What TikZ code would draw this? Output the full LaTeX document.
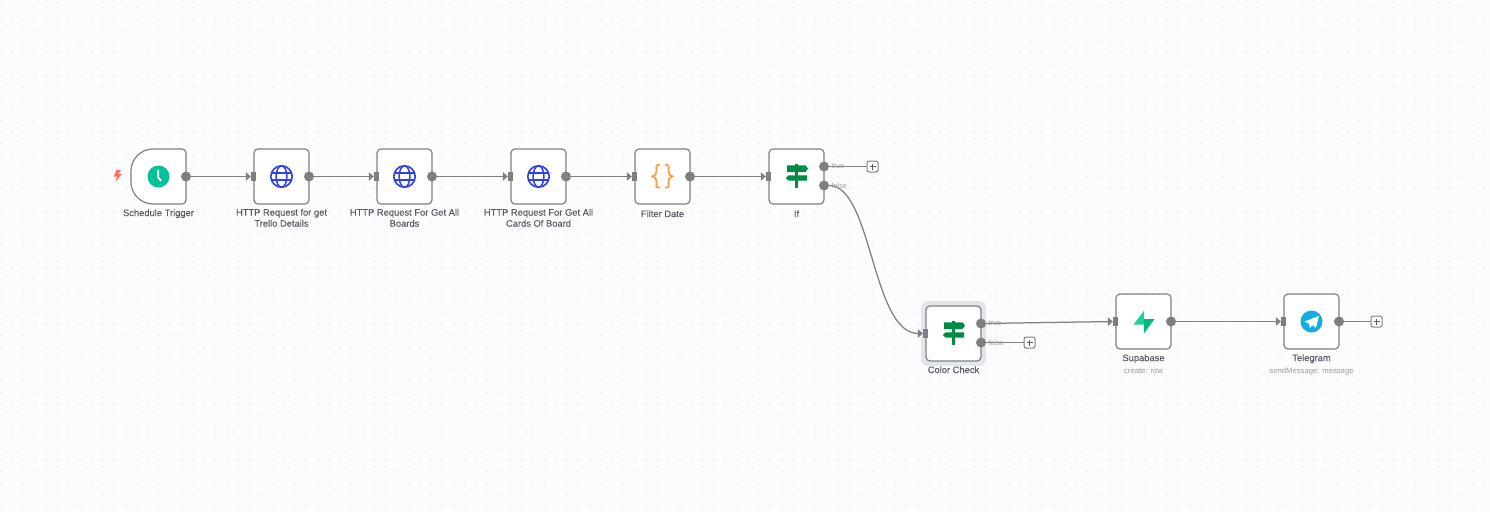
\documentclass[tikz,border=0pt]{standalone}
\usepackage{fontspec}
\setmainfont{Liberation Sans}
\newfontfamily\medfont[FakeBold=0.1]{Liberation Sans}
\usetikzlibrary{arrows.meta}
\definecolor{bgc}{HTML}{FBFCFE}
\definecolor{dotc}{HTML}{E1E4E9}
\definecolor{linec}{HTML}{808083}
\definecolor{labelc}{HTML}{5A5D68}
\definecolor{subc}{HTML}{9A9DA6}
\definecolor{portc}{HTML}{7F7F82}
\definecolor{haloc}{HTML}{E3E5EC}
\definecolor{bluec}{HTML}{2F41E6}
\definecolor{greenc}{HTML}{00C29A}
\definecolor{signc}{HTML}{008C45}
\definecolor{orangec}{HTML}{FF9A3C}
\definecolor{redc}{HTML}{FF6D5A}
\definecolor{supac}{HTML}{1AD394}
\definecolor{supbc}{HTML}{00B97C}
\definecolor{telec}{HTML}{12AEE2}
\tikzset{
  card/.style={draw=linec,fill=white,line width=1.2pt,rounded corners=4pt,minimum width=55pt,minimum height=55pt,inner sep=0pt},
  inport/.style={fill=portc,minimum width=5pt,minimum height=9pt,inner sep=0pt},
  outport/.style={circle,fill=portc,minimum size=10pt,inner sep=0pt},
  link/.style={draw=linec,line width=1.25pt},
  arrowlink/.style={link,-{Triangle[length=5pt,width=8.5pt,fill=linec]}},
  title/.style={text=labelc,font=\medfont\fontsize{9.35}{11}\selectfont,align=center,inner sep=0pt},
  subtitle/.style={text=subc,font=\fontsize{7.7}{9}\selectfont,inner sep=0pt},
  branch/.style={text=subc,font=\fontsize{7.2}{8}\selectfont,inner sep=0pt,anchor=west},
  plusbox/.style={draw=linec,fill=white,line width=1pt,rounded corners=2pt,minimum size=11pt,inner sep=0pt},
  globe/.pic={
    \draw[bluec,line width=1.6pt] (0,0) circle (10.7);
    \draw[bluec,line width=1.5pt] (0,0) ellipse (5.4 and 10.7);
    \draw[bluec,line width=1.5pt] (-9.6,-3.7) -- (9.6,-3.7) (-9.6,3.7) -- (9.6,3.7);
  },
  ifsign/.pic={
    \fill[signc] (-1.4,-12.2) rectangle (1.3,11);
    \fill[signc,rounded corners=0.4pt] (-9.5,-11.2) -- (9,-11.2) -- (11.5,-7.9) -- (9,-4.5) -- (-9.5,-4.5) -- cycle;
    \fill[signc,rounded corners=0.4pt] (10.5,-1.2) -- (-8,-1.2) -- (-10.7,1.5) -- (-8,4.2) -- (10.5,4.2) -- cycle;
  },
  plussign/.pic={
    \draw[labelc,line width=0.9pt] (-3,0) -- (3,0) (0,-3) -- (0,3);
  }
}
\begin{document}
\begin{tikzpicture}[x=1pt,y=-1pt]
\useasboundingbox (0,0) rectangle (1490,511);
\fill[bgc] (0,0) rectangle (1490,511);
% dotted canvas
\foreach \i in {0,...,131}{
  \foreach \j in {0,...,44}{
    \fill[dotc] ({0.8+11.32*\i},{7.5+11.32*\j}) circle (0.6);
  }
}
% halo of the selected node
\fill[haloc,rounded corners=7pt] (921,301) rectangle (986,366);
% trigger node
\coordinate (trg) at (158.5,176.5);
\draw[draw=linec,fill=white,line width=1.2pt,line join=round]
  (182,149) .. controls (184.2,149) and (186,150.8) .. (186,153) -- (186,200)
  .. controls (186,202.2) and (184.2,204) .. (182,204) -- (153,204)
  .. controls (141,204) and (131,194) .. (131,182) -- (131,171)
  .. controls (131,159) and (141,149) .. (153,149) -- cycle;
% cards
\node[card] (http1) at (281.5,176.5) {};
\node[card] (http2) at (404.5,176.5) {};
\node[card] (http3) at (538.5,176.5) {};
\node[card] (filter) at (662.5,176.5) {};
\node[card] (ifnode) at (796.5,176.5) {};
\node[card] (color) at (953.5,333.5) {};
\node[card] (supa) at (1143.5,321.5) {};
\node[card] (tele) at (1311.5,321.5) {};
% ports
\node[outport] (o0) at (186,176.5) {};
\node[inport] (i1) at (253.5,176.5) {};
\node[outport] (o1) at (309,176.5) {};
\node[inport] (i2) at (376.5,176.5) {};
\node[outport] (o2) at (432,176.5) {};
\node[inport] (i3) at (510.5,176.5) {};
\node[outport] (o3) at (566,176.5) {};
\node[inport] (i4) at (634.5,176.5) {};
\node[outport] (o4) at (690,176.5) {};
\node[inport] (i5) at (768.5,176.5) {};
\node[outport] (ot) at (824,166.5) {};
\node[outport] (of) at (824,185.5) {};
\node[inport] (i6) at (925.5,333.5) {};
\node[outport] (ct) at (981,323.5) {};
\node[outport] (cf) at (981,342.5) {};
\node[inport] (i7) at (1115.5,321.5) {};
\node[outport] (o7) at (1171,321.5) {};
\node[inport] (i8) at (1283.5,321.5) {};
\node[outport] (o8) at (1339,321.5) {};
% plus boxes
\node[plusbox] (p1) at (872.5,166.5) {};
\node[plusbox] (p2) at (1029.5,342.5) {};
\node[plusbox] (p3) at (1376.5,321.5) {};
\pic at (p1) {plussign};
\pic at (p2) {plussign};
\pic at (p3) {plussign};
% connectors
\draw[arrowlink] (o0) -- (i1);
\draw[arrowlink] (o1) -- (i2);
\draw[arrowlink] (o2) -- (i3);
\draw[arrowlink] (o3) -- (i4);
\draw[arrowlink] (o4) -- (i5);
\draw[arrowlink] (of.east) .. controls (872,185.5) and (872,333.5) .. (i6.west);
\draw[arrowlink] (ct) -- (i7);
\draw[arrowlink] (o7) -- (i8);
\draw[link] (ot) -- (p1);
\draw[link] (cf) -- (p2);
\draw[link] (o8) -- (p3);
% branch labels
\node[branch] at (831.5,166.5) {true};
\node[branch] at (831.5,185.5) {false};
\node[branch] at (988.5,323.5) {true};
\node[branch] at (988.5,342.5) {false};
% icons
\fill[redc] (116.5,170) -- (113.8,176.5) -- (117,176.5) -- (115.5,182) -- (121.8,174) -- (118.5,174) -- (120.8,170) -- cycle;
\fill[greenc] (trg) circle (11);
\draw[white,line width=1.9pt,line cap=round,line join=round] (158.2,170.5) -- (158.2,177.5) -- (161,180.5);
\pic at (http1) {globe};
\pic at (http2) {globe};
\pic at (http3) {globe};
\draw[orangec,line width=1.7pt,line cap=round]
  (659.5,164.7) .. controls (655,164.7) and (656.5,168) .. (656.5,171) .. controls (656.5,174) and (655.5,176) .. (652.5,176.3)
  .. controls (655.5,176.6) and (656.5,179) .. (656.5,182) .. controls (656.5,185) and (655,187.7) .. (659.5,187.7);
\draw[orangec,line width=1.7pt,line cap=round]
  (665.5,164.7) .. controls (670,164.7) and (668.5,168) .. (668.5,171) .. controls (668.5,174) and (669.5,176) .. (672.5,176.3)
  .. controls (669.5,176.6) and (668.5,179) .. (668.5,182) .. controls (668.5,185) and (670,187.7) .. (665.5,187.7);
\pic at (ifnode) {ifsign};
\pic at (color) {ifsign};
\fill[supac] (1144,310.7) -- (1133.5,324.5) -- (1144,324.5) -- cycle;
\fill[supbc] (1144,333.3) -- (1154.5,319) -- (1144,319) -- cycle;
\fill[telec] (tele) circle (11);
\fill[white] (1319,315.8) -- (1304.3,321.6) -- (1308.6,323.3) -- (1310,327.8) -- (1312.4,325.2) -- (1316,327.6) -- cycle;
% titles
\node[title] (t0) at (158.5,213.7) {Schedule Trigger};
\node[title,anchor=north] (t1) at (281.5,208.7) {HTTP Request for get\\Trello Details};
\node[title,anchor=north] (t2) at (404.5,208.7) {HTTP Request For Get All\\Boards};
\node[title,anchor=north] (t3) at (538.5,208.7) {HTTP Request For Get All\\Cards Of Board};
\node[title] (t4) at (662.5,213.7) {Filter Date};
\node[title] (t5) at (796.5,213.7) {If};
\node[title] (t6) at (953.5,369.7) {Color Check};
\node[title] (t7) at (1143.5,358.7) {Supabase};
\node[subtitle] (s7) at (1143.5,371.5) {create: row};
\node[title] (t8) at (1311.5,358.7) {Telegram};
\node[subtitle] (s8) at (1311.5,371.5) {sendMessage: message};
\end{tikzpicture}
\end{document}
